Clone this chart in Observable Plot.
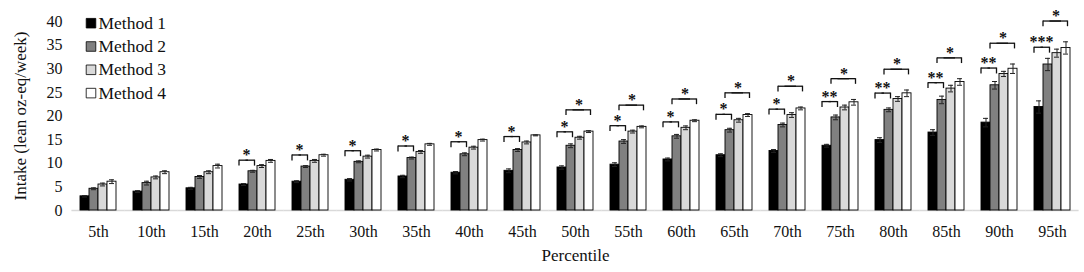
<!DOCTYPE html>
<html><head><meta charset="utf-8">
<script src="https://cdn.jsdelivr.net/npm/d3@7"></script>
<script src="https://cdn.jsdelivr.net/npm/@observablehq/plot@0.6"></script>
<style>
body{margin:0;background:#fff;}
#chart svg{display:block;}
#chart g[aria-label="y-axis label"] text, #chart g[aria-label="fx-axis label"] text{font-size:17px;}
</style>
</head><body><div id="chart"></div>
<script>
const percentiles = ["5th","10th","15th","20th","25th","30th","35th","40th","45th","50th","55th","60th","65th","70th","75th","80th","85th","90th","95th"];
const methods = ["Method 1","Method 2","Method 3","Method 4"];
const method1 = [3.0,4.0,4.7,5.5,6.1,6.5,7.2,8.0,8.4,9.1,9.7,10.8,11.7,12.6,13.7,14.9,16.5,18.6,21.9];
const method2 = [4.6,5.8,7.1,8.3,9.3,10.3,11.1,11.9,12.8,13.7,14.6,15.7,17.0,18.1,19.7,21.3,23.4,26.5,30.9];
const method3 = [5.5,7.0,8.1,9.4,10.5,11.4,12.4,13.3,14.4,15.4,16.7,17.5,19.1,20.2,21.8,23.6,25.8,28.9,33.3];
const method4 = [6.1,8.1,9.4,10.5,11.7,12.8,14.0,14.9,15.9,16.7,17.7,19.0,20.2,21.6,22.9,24.8,27.2,30.0,34.4];
const err1 = [0.15,0.2,0.2,0.2,0.2,0.25,0.25,0.25,0.4,0.35,0.4,0.3,0.3,0.3,0.3,0.5,0.6,0.9,1.3];
const err2 = [0.2,0.4,0.3,0.2,0.2,0.2,0.2,0.3,0.3,0.4,0.4,0.4,0.4,0.4,0.5,0.4,0.8,0.8,1.3];
const err3 = [0.3,0.3,0.3,0.3,0.3,0.3,0.3,0.3,0.3,0.3,0.3,0.4,0.4,0.5,0.5,0.5,0.7,0.55,0.85];
const err4 = [0.4,0.3,0.4,0.3,0.2,0.2,0.2,0.2,0.1,0.2,0.2,0.2,0.3,0.3,0.6,0.7,0.7,1.0,1.3];
const sigM1vsM2 = ["","","","*","*","*","*","*","*","*","*","*","*","*","**","**","**","**","***"];
const sigM2vsM4 = ["","","","","","","","","","*","*","*","*","*","*","*","*","*","*"];
const yTicks = [0,5,10,15,20,25,30,35,40];
const fills = ["#000000","#808080","#d9d9d9","#ffffff"];

const series = [method1, method2, method3, method4];
const errs = [err1, err2, err3, err4];
const rows = [];
percentiles.forEach((p, i) => methods.forEach((m, j) => rows.push({pct: p, method: m, value: series[j][i], err: errs[j][i]})));

const brA = [], brB = [];
percentiles.forEach((p, i) => {
  if (sigM1vsM2[i]) brA.push({pct: p, left: "Method 1", right: "Method 2", mid: "Method 1", bottom: method3[i], top: method3[i] + 1.25, label: sigM1vsM2[i]});
  if (sigM2vsM4[i]) { const t = method4[i] + err4[i] + 4.4; brB.push({pct: p, left: "Method 2", right: "Method 4", mid: "Method 3", bottom: t - 1.2, top: t, label: sigM2vsM4[i]}); }
});

function bracketMarks(br, starDx) {
  const o = {fx: "pct", stroke: "#111", strokeWidth: 1.3};
  return [
    Plot.link(br, {...o, x1: "left", x2: "right", y1: "top", y2: "top", dx: -5}),
    Plot.link(br, {...o, x1: "left", x2: "right", y1: "top", y2: "top", dx: 1.5}),
    Plot.ruleX(br, {...o, x: "left", y1: "bottom", y2: "top", dx: -5}),
    Plot.ruleX(br, {...o, x: "right", y1: "bottom", y2: "top", dx: 1.5}),
    Plot.text(br, {fx: "pct", x: "mid", y: "top", text: "label", dx: starDx, dy: -5, fontSize: 16, fontWeight: "bold", fill: "#111", lineAnchor: "middle"})
  ];
}

const legend = methods.flatMap((m, i) => [
  Plot.dot([m], {facet: "super", frameAnchor: "top-left", dx: 10.5, dy: 1.7 + i * 23.3, symbol: "square", r: 5.4, fill: fills[i], stroke: "#000", strokeWidth: 0.8}),
  Plot.text([m], {facet: "super", frameAnchor: "top-left", text: d => d, dx: 18, dy: 1.7 + i * 23.3, textAnchor: "start", lineAnchor: "middle", fontSize: 17.5, fill: "#111"})
]);

const chart = Plot.plot({
  width: 1084,
  height: 272,
  marginLeft: 71,
  marginRight: 4,
  marginTop: 21,
  marginBottom: 62,
  style: {fontFamily: "'Liberation Serif', 'Times New Roman', serif", fontSize: "16px", color: "#111", background: "#fff"},
  fx: {domain: percentiles, paddingInner: 0.32, paddingOuter: 0.16, axis: "bottom", tickSize: 0, tickPadding: 15, label: "Percentile", labelAnchor: "center", labelOffset: 50, labelArrow: "none"},
  x: {domain: methods, axis: null, padding: 0},
  y: {domain: [0, 40], ticks: yTicks, tickSize: 0, tickPadding: 18, label: "Intake (lean oz-eq/week)", labelAnchor: "center", labelOffset: 67, labelArrow: "none"},
  color: {domain: methods, range: fills},
  marks: [
    Plot.ruleY(percentiles, {fx: d => d, y: () => 0, insetLeft: -8.6, insetRight: -8.6, stroke: "#d9d9d9", strokeWidth: 1.5}),
    Plot.barY(rows, {fx: "pct", x: "method", y: "value", fill: "method", stroke: "#000", strokeWidth: 0.9}),
    Plot.ruleX(rows, {fx: "pct", x: "method", y1: d => d.value - d.err, y2: d => d.value + d.err, stroke: "#222", strokeWidth: 1}),
    Plot.tickY(rows, {fx: "pct", x: "method", y: d => d.value + d.err, insetLeft: 2, insetRight: 2, stroke: "#222", strokeWidth: 1}),
    Plot.tickY(rows, {fx: "pct", x: "method", y: d => d.value - d.err, insetLeft: 2, insetRight: 2, stroke: "#222", strokeWidth: 1}),
    ...bracketMarks(brA, 2.5),
    ...bracketMarks(brB, -1),
    ...legend
  ]
});
document.getElementById("chart").appendChild(chart);
</script>
</body></html>
